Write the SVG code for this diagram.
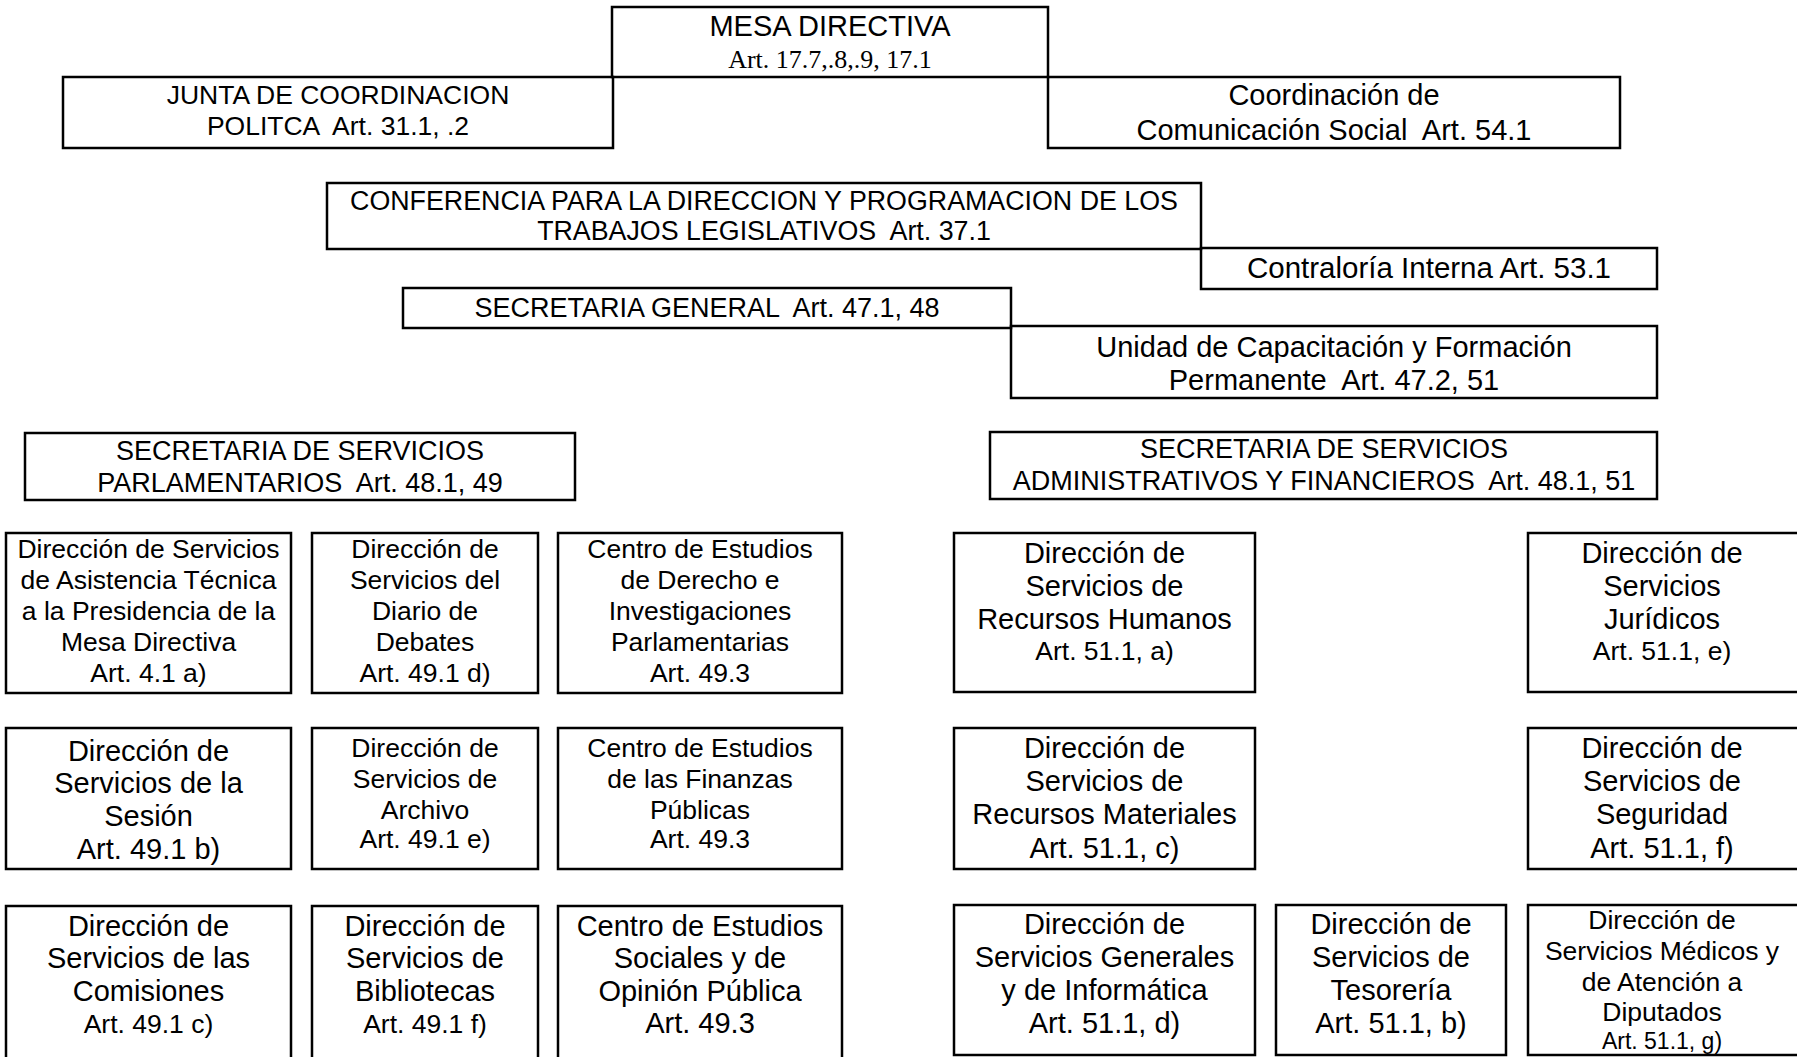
<svg xmlns="http://www.w3.org/2000/svg" width="1797" height="1057" viewBox="0 0 1797 1057" xml:space="preserve">
<style>
  .b { fill: none; stroke: #000; stroke-width: 2.5; }
  text { font-family: "Liberation Sans", Arial, sans-serif; fill: #000; text-anchor: middle; white-space: pre; }
  .serif { font-family: "Liberation Serif", "Times New Roman", serif; }
  .s26 { font-size: 26.5px; }
  .s27 { font-size: 27px; }
  .s29 { font-size: 29px; }
</style>
<rect x="0" y="0" width="1797" height="1057" fill="#fff"/>
<g id="connectors"></g>

<g id="mesa-directiva">
  <rect class="b" x="612" y="7" width="436" height="70"/>
  <text x="830" y="36" style="font-size:29px">MESA DIRECTIVA</text>
  <text class="serif" x="830" y="68" style="font-size:26px">Art. 17.7,.8,.9, 17.1</text>
</g>

<g id="junta-coordinacion">
  <rect class="b" x="63" y="77" width="550" height="71"/>
  <text x="338" y="104" style="font-size:26.5px">JUNTA DE COORDINACION</text>
  <text x="338" y="135" style="font-size:26.5px">POLITCA  Art. 31.1, .2</text>
</g>

<g id="coordinacion-comunicacion">
  <rect class="b" x="1048" y="77" width="572" height="71"/>
  <text class="s29" x="1334" y="105">Coordinación de</text>
  <text class="s29" x="1334" y="140">Comunicación Social  Art. 54.1</text>
</g>

<g id="conferencia">
  <rect class="b" x="327" y="183" width="874" height="66"/>
  <text x="764" y="210" style="font-size:26.8px">CONFERENCIA PARA LA DIRECCION Y PROGRAMACION DE LOS</text>
  <text x="764" y="240" style="font-size:26.8px">TRABAJOS LEGISLATIVOS  Art. 37.1</text>
</g>

<g id="contraloria">
  <rect class="b" x="1201" y="248" width="456" height="41"/>
  <text x="1429" y="278" style="font-size:29.5px">Contraloría Interna Art. 53.1</text>
</g>

<g id="secretaria-general">
  <rect class="b" x="403" y="288" width="608" height="40"/>
  <text class="s27" x="707" y="317">SECRETARIA GENERAL  Art. 47.1, 48</text>
</g>

<g id="unidad-capacitacion">
  <rect class="b" x="1011" y="326" width="646" height="72"/>
  <text class="s29" x="1334" y="357">Unidad de Capacitación y Formación</text>
  <text class="s29" x="1334" y="390">Permanente  Art. 47.2, 51</text>
</g>

<g id="sec-servicios-parlamentarios">
  <rect class="b" x="25" y="433" width="550" height="67"/>
  <text class="s27" x="300" y="460">SECRETARIA DE SERVICIOS</text>
  <text class="s27" x="300" y="492">PARLAMENTARIOS  Art. 48.1, 49</text>
</g>

<g id="sec-servicios-administrativos">
  <rect class="b" x="990" y="432" width="667" height="67"/>
  <text class="s27" x="1324" y="458">SECRETARIA DE SERVICIOS</text>
  <text class="s27" x="1324" y="490">ADMINISTRATIVOS Y FINANCIEROS  Art. 48.1, 51</text>
</g>

<!-- Row 1 left -->
<g id="dir-asistencia-tecnica">
  <rect class="b" x="6" y="533" width="285" height="160"/>
  <text class="s26" x="148.5" y="558">Dirección de Servicios</text>
  <text class="s26" x="148.5" y="589">de Asistencia Técnica</text>
  <text class="s26" x="148.5" y="620">a la Presidencia de la</text>
  <text class="s26" x="148.5" y="651">Mesa Directiva</text>
  <text class="s26" x="148.5" y="682">Art. 4.1 a)</text>
</g>
<g id="dir-diario-debates">
  <rect class="b" x="312" y="533" width="226" height="160"/>
  <text class="s26" x="425" y="558">Dirección de</text>
  <text class="s26" x="425" y="589">Servicios del</text>
  <text class="s26" x="425" y="620">Diario de</text>
  <text class="s26" x="425" y="651">Debates</text>
  <text class="s26" x="425" y="682">Art. 49.1 d)</text>
</g>
<g id="centro-derecho">
  <rect class="b" x="558" y="533" width="284" height="160"/>
  <text class="s26" x="700" y="558">Centro de Estudios</text>
  <text class="s26" x="700" y="589">de Derecho e</text>
  <text class="s26" x="700" y="620">Investigaciones</text>
  <text class="s26" x="700" y="651">Parlamentarias</text>
  <text class="s26" x="700" y="682">Art. 49.3</text>
</g>

<!-- Row 1 right -->
<g id="dir-recursos-humanos">
  <rect class="b" x="954" y="533" width="301" height="159"/>
  <text class="s29" x="1104.5" y="563">Dirección de</text>
  <text class="s29" x="1104.5" y="596">Servicios de</text>
  <text class="s29" x="1104.5" y="629">Recursos Humanos</text>
  <text class="s26" x="1104.5" y="660">Art. 51.1, a)</text>
</g>
<g id="dir-juridicos">
  <rect class="b" x="1528" y="533" width="272" height="159"/>
  <text class="s29" x="1662" y="563">Dirección de</text>
  <text class="s29" x="1662" y="596">Servicios</text>
  <text class="s29" x="1662" y="629">Jurídicos</text>
  <text class="s26" x="1662" y="660">Art. 51.1, e)</text>
</g>

<!-- Row 2 left -->
<g id="dir-sesion">
  <rect class="b" x="6" y="728" width="285" height="141"/>
  <text class="s29" x="148.5" y="761">Dirección de</text>
  <text class="s29" x="148.5" y="793">Servicios de la</text>
  <text class="s29" x="148.5" y="826">Sesión</text>
  <text class="s29" x="148.5" y="859">Art. 49.1 b)</text>
</g>
<g id="dir-archivo">
  <rect class="b" x="312" y="728" width="226" height="141"/>
  <text class="s26" x="425" y="757">Dirección de</text>
  <text class="s26" x="425" y="788">Servicios de</text>
  <text class="s26" x="425" y="819">Archivo</text>
  <text class="s26" x="425" y="848">Art. 49.1 e)</text>
</g>
<g id="centro-finanzas">
  <rect class="b" x="558" y="728" width="284" height="141"/>
  <text class="s26" x="700" y="757">Centro de Estudios</text>
  <text class="s26" x="700" y="788">de las Finanzas</text>
  <text class="s26" x="700" y="819">Públicas</text>
  <text class="s26" x="700" y="848">Art. 49.3</text>
</g>

<!-- Row 2 right -->
<g id="dir-recursos-materiales">
  <rect class="b" x="954" y="728" width="301" height="141"/>
  <text class="s29" x="1104.5" y="758">Dirección de</text>
  <text class="s29" x="1104.5" y="791">Servicios de</text>
  <text class="s29" x="1104.5" y="824">Recursos Materiales</text>
  <text class="s29" x="1104.5" y="858">Art. 51.1, c)</text>
</g>
<g id="dir-seguridad">
  <rect class="b" x="1528" y="728" width="272" height="141"/>
  <text class="s29" x="1662" y="758">Dirección de</text>
  <text class="s29" x="1662" y="791">Servicios de</text>
  <text class="s29" x="1662" y="824">Seguridad</text>
  <text class="s29" x="1662" y="858">Art. 51.1, f)</text>
</g>

<!-- Row 3 left -->
<g id="dir-comisiones">
  <rect class="b" x="6" y="906" width="285" height="160"/>
  <text class="s29" x="148.5" y="936">Dirección de</text>
  <text class="s29" x="148.5" y="968">Servicios de las</text>
  <text class="s29" x="148.5" y="1001">Comisiones</text>
  <text class="s26" x="148.5" y="1033">Art. 49.1 c)</text>
</g>
<g id="dir-bibliotecas">
  <rect class="b" x="312" y="906" width="226" height="160"/>
  <text class="s29" x="425" y="936">Dirección de</text>
  <text class="s29" x="425" y="968">Servicios de</text>
  <text class="s29" x="425" y="1001">Bibliotecas</text>
  <text class="s26" x="425" y="1033">Art. 49.1 f)</text>
</g>
<g id="centro-sociales">
  <rect class="b" x="558" y="906" width="284" height="160"/>
  <text class="s29" x="700" y="936">Centro de Estudios</text>
  <text class="s29" x="700" y="968">Sociales y de</text>
  <text class="s29" x="700" y="1001">Opinión Pública</text>
  <text class="s29" x="700" y="1033">Art. 49.3</text>
</g>

<!-- Row 3 right -->
<g id="dir-generales-informatica">
  <rect class="b" x="954" y="905" width="301" height="150"/>
  <text class="s29" x="1104.5" y="934">Dirección de</text>
  <text class="s29" x="1104.5" y="967">Servicios Generales</text>
  <text class="s29" x="1104.5" y="1000">y de Informática</text>
  <text class="s29" x="1104.5" y="1033">Art. 51.1, d)</text>
</g>
<g id="dir-tesoreria">
  <rect class="b" x="1276" y="905" width="230" height="150"/>
  <text class="s29" x="1391" y="934">Dirección de</text>
  <text class="s29" x="1391" y="967">Servicios de</text>
  <text class="s29" x="1391" y="1000">Tesorería</text>
  <text class="s29" x="1391" y="1033">Art. 51.1, b)</text>
</g>
<g id="dir-medicos">
  <rect class="b" x="1528" y="905" width="272" height="150"/>
  <text class="s26" x="1662" y="929">Dirección de</text>
  <text class="s26" x="1662" y="960">Servicios Médicos y</text>
  <text class="s26" x="1662" y="991">de Atención a</text>
  <text class="s26" x="1662" y="1021">Diputados</text>
  <text x="1662" y="1049" style="font-size:23px">Art. 51.1, g)</text>
</g>
</svg>
